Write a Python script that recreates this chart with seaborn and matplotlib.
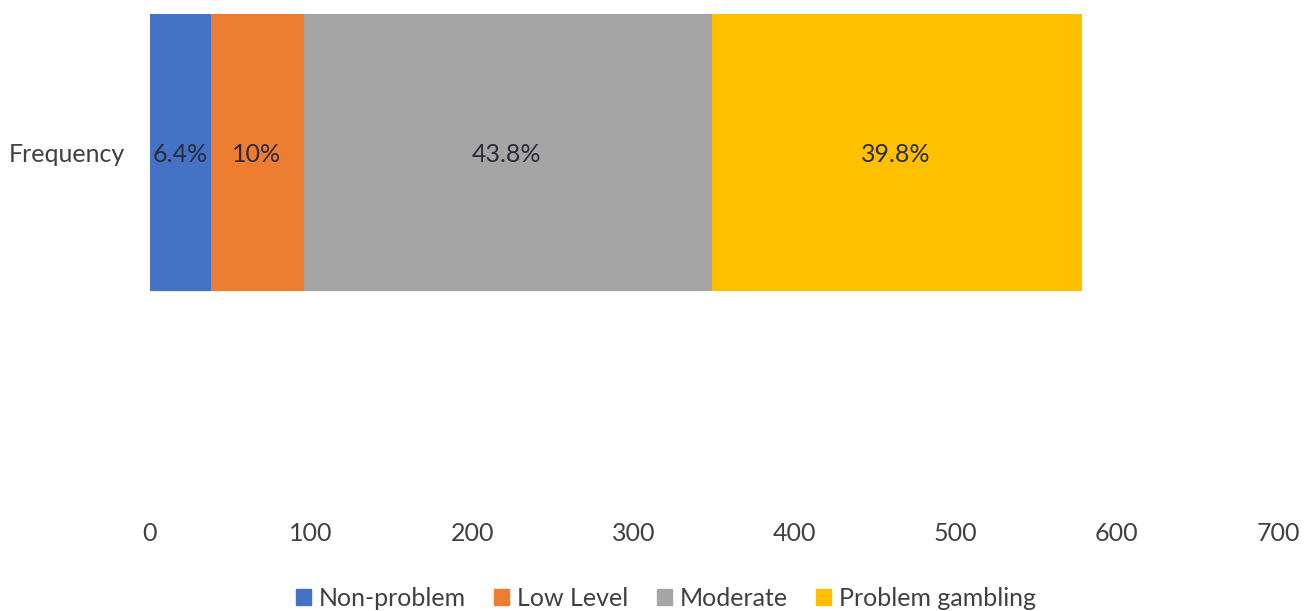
import matplotlib
matplotlib.use("Agg")
import matplotlib.pyplot as plt
import seaborn as sns
import pandas as pd
import numpy as np
from matplotlib.patches import Patch

# data
categories = ["Non-problem", "Low Level", "Moderate", "Problem gambling"]
counts = [37, 58, 253, 230]
pct_labels = ["6.4%", "10%", "43.8%", "39.8%"]
colors = ["#4472C4", "#ED7D31", "#A5A5A5", "#FFC000"]
row_name = "Frequency"
xticks = [0, 100, 200, 300, 400, 500, 600, 700]

sns.set_style("white")
plt.rcParams["font.family"] = ["Lato", "DejaVu Sans"]

cum = np.cumsum(counts)
df = pd.DataFrame({"cat": categories, "cum": cum, "row": row_name})

fig = plt.figure(figsize=(13.11, 6.11), dpi=100)
ax = fig.add_axes([0.1144, 0.1522, 0.8604, 0.8249])

# stacked bar: draw cumulative totals from the biggest down
for i in reversed(range(len(categories))):
    sns.barplot(data=df.iloc[[i]], x="cum", y="row", color=colors[i],
                width=1.0, ax=ax, saturation=1, edgecolor=colors[i], linewidth=0.8)

for i, lab in enumerate(pct_labels):
    xc = cum[i] - counts[i] / 2
    ax.text(xc, 0.01, lab, ha="center", va="center", fontsize=18, color="#2b2b3a")

ax.set_xlim(0, 700)
ax.set_ylim(1.326, -0.5)
ax.set_xticks(xticks)
ax.set_xticklabels([str(t) for t in xticks])
ax.set_xlabel("")
ax.set_ylabel("")
ax.tick_params(axis="both", length=0, labelsize=18, labelcolor="#404040")
ax.tick_params(axis="x", pad=3)
ax.tick_params(axis="y", pad=18)
ax.grid(False)
for s in ax.spines.values():
    s.set_visible(False)

handles = [Patch(facecolor=c, edgecolor=c) for c in colors]
fig.legend(handles, categories, loc="center", bbox_to_anchor=(0.508, 0.021),
           ncol=4, frameon=False, fontsize=18, handlelength=0.6, handleheight=0.6,
           handletextpad=0.3, columnspacing=1.15, labelcolor="#404040")

fig.savefig("out.png", dpi=100)
